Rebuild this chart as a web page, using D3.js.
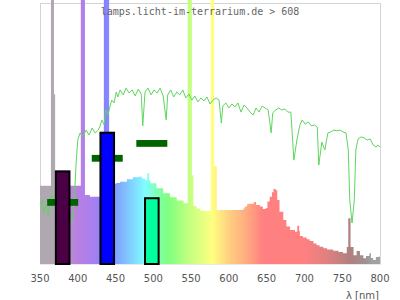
<!DOCTYPE html>
<html>
<head>
<meta charset="utf-8">
<script src="https://cdn.jsdelivr.net/npm/d3@7"></script>
<style>
  body { margin: 0; background: #fff; }
  svg { display: block; }
</style>
</head>
<body>
<svg id="chart"></svg>
<script>
// lamp spectrum: [wavelength nm, relative intensity] (step start points, peaks run off the top)
const lampSpectrum = [
  [350, 30], [364.5, 200], [368.5, 65], [370, 30], [404, 200], [409.5, 26.4], [416, 25.8],
  [434.5, 200], [441.5, 30], [449, 30.7], [451, 31], [456, 31.5], [465, 32.5], [473, 33.2],
  [480, 33.4], [485, 32.8], [489, 32.2], [492, 34.8], [494.5, 32], [496, 30.9], [504, 29],
  [513, 27.1], [522, 25.6], [531, 24.3], [540, 23.3], [545.5, 200], [551, 34], [553, 22.2],
  [557, 21.3], [562, 20.4], [568, 20.3], [576, 200], [580.5, 37.5], [584, 20.7], [619, 21.3],
  [621, 22], [624, 22.9], [626, 23.1], [633, 23.8], [636, 22.6], [641, 22], [645, 21.1],
  [649, 21.5], [651, 23.9], [654, 25.8], [657, 27.5], [659, 28.7], [662, 28.3], [664, 24.5],
  [667, 20], [672, 16.9], [676, 14.4], [681, 13], [687.5, 12.4], [690.5, 14.7], [693, 12.6],
  [694, 10.7], [698, 10.2], [703, 9.5], [707, 8.8], [712, 7.9], [716, 7.2], [720, 6.6],
  [725, 6], [730, 5.6], [738, 5.1], [745, 4.6], [751, 4.1], [756, 6.5], [758, 17.5],
  [761, 6.5], [765, 3.4], [769, 5], [773.5, 3.4], [778, 2.2], [781.5, 3.1], [786, 4.1],
  [788, 2.3], [791, 1.5], [794.5, 2.7], [797.5, 2.8], [800, 1.9]
];

// reference sunlight spectrum (green line)
const sunSpectrum = [
  [350, 22.6], [353, 24.5], [355, 19.9], [358, 22.6], [361, 18.8], [363, 24.5], [366, 26.4],
  [370, 24.5], [377, 22.6], [383, 20.7], [390, 18.8], [392, 16.1], [395, 22.6], [398, 39.8],
  [400, 47.5], [403, 50.2], [407, 48.7], [411, 51.3], [415, 49.4], [419, 52.1], [423, 50.2],
  [427, 51.3], [429, 52.5], [432, 55.2], [435, 53.3], [437, 59], [440, 57.1], [443, 60.9],
  [445, 62.8], [448, 61.7], [451, 65.9], [453, 64], [456, 66.7], [460, 64.8], [464, 67.4],
  [468, 65.5], [472, 66.7], [476, 64.4], [480, 67], [484, 65.1], [486, 52.9], [489, 65.9],
  [493, 67.4], [497, 64.8], [501, 66.7], [505, 65.5], [509, 67.4], [513, 64.4], [517, 55.2],
  [519, 64.8], [523, 66.7], [527, 64], [531, 65.9], [535, 64.8], [539, 66.7], [543, 63.6],
  [547, 65.1], [551, 62.8], [555, 64.4], [559, 62.1], [563, 63.6], [567, 62.5], [571, 64],
  [575, 61.3], [579, 62.8], [583, 63.6], [587, 62.8], [590, 54], [592, 60.5], [596, 61.7],
  [600, 59.8], [604, 61.3], [608, 60.2], [612, 61.7], [616, 58.2], [620, 60.9], [624, 59.8],
  [628, 58.2], [632, 57.1], [636, 59.8], [640, 58.2], [644, 60.5], [648, 59.8], [652, 59],
  [656, 50.2], [658, 57.9], [662, 59], [666, 59.8], [670, 59], [674, 59.4], [678, 58.2],
  [682, 58.2], [686, 39.8], [690, 47.5], [694, 53.3], [697, 55.2], [701, 53.6], [705, 54.4],
  [709, 52.9], [713, 53.3], [717, 52.5], [719, 37.9], [723, 46.7], [727, 43.7], [731, 50.2],
  [735, 50.6], [739, 51.3], [743, 51], [747, 51.3], [751, 50.6], [755, 50.2], [758, 43.7],
  [760, 24.5], [763, 15.7], [766, 24.5], [768, 43.7], [771, 47.9], [775, 48.7], [779, 48.3],
  [783, 47.5], [787, 47.9], [791, 45.6], [795, 44.8], [797, 45.6], [800, 44.8]
];

// receptor bars and their markers
const receptorNm = [380, 439, 498];
const receptorVal = [35.5, 50.3, 25.2];
const receptorColor = ["#4b0046", "#0000ff", "#00ff9f"];
const markerVal = [23.6, 40.5, 46.2];

const xTicks = [350, 400, 450, 500, 550, 600, 650, 700, 750, 800];
const titleText = "lamps.licht-im-terrarium.de > 608";

// wavelength -> colour of the fill
const colorStops = [
  [350, "#b0a8b0"], [372, "#b0a8b0"], [386, "#b890c8"], [400, "#b880e0"], [420, "#a880f0"],
  [436, "#8880ff"], [450, "#80a0ff"], [470, "#80d0ff"], [490, "#80ffff"], [505, "#80ffb0"],
  [520, "#80ff80"], [546, "#c0ff80"], [578, "#ffff80"], [600, "#ffd080"], [625, "#ffa880"],
  [645, "#ff8080"], [700, "#ff8080"], [730, "#e08080"], [760, "#b08080"], [780, "#a09090"],
  [790, "#a0a0a0"], [800, "#a0a0a0"]
];

const W = 400, H = 300;
const svg = d3.select("#chart").attr("width", W).attr("height", H);

const x = d3.scaleLinear().domain([350, 800]).range([40, 380]);
const y = d3.scaleLinear().domain([0, 100]).range([264, 3]);

// frame
svg.append("rect")
  .attr("x", 40.5).attr("y", 3.5)
  .attr("width", 340).attr("height", 260.5)
  .attr("fill", "none")
  .attr("stroke", "#d4d4d4");

// gradient for the spectrum
const grad = svg.append("defs").append("linearGradient")
  .attr("id", "spec")
  .attr("gradientUnits", "userSpaceOnUse")
  .attr("x1", x(350)).attr("x2", x(800))
  .attr("y1", 0).attr("y2", 0);

grad.selectAll("stop")
  .data(colorStops)
  .enter().append("stop")
  .attr("offset", d => (d[0] - 350) / 450)
  .attr("stop-color", d => d[1]);

const area = d3.area()
  .x(d => x(d[0]))
  .y0(y(0))
  .y1(d => y(d[1]))
  .curve(d3.curveStepAfter);

svg.append("path")
  .datum(lampSpectrum)
  .attr("d", area)
  .attr("fill", "url(#spec)");

// sunlight line
const line = d3.line()
  .x(d => x(d[0]))
  .y(d => y(d[1]));

svg.append("path")
  .datum(sunSpectrum)
  .attr("d", line)
  .attr("fill", "none")
  .attr("stroke", "#5ed65e")
  .attr("stroke-width", 1);

// markers
svg.selectAll(".marker")
  .data(receptorNm)
  .enter().append("rect")
  .attr("class", "marker")
  .attr("x", d => x(d - 20.5))
  .attr("width", d => x(d + 20.5) - x(d - 20.5))
  .attr("y", (d, i) => y(markerVal[i]) - 3.4)
  .attr("height", 6.8)
  .attr("fill", "#006400");

// receptor bars
svg.selectAll(".bar")
  .data(receptorNm)
  .enter().append("rect")
  .attr("class", "bar")
  .attr("x", d => x(d - 9))
  .attr("width", d => x(d + 9) - x(d - 9))
  .attr("y", (d, i) => y(receptorVal[i]))
  .attr("height", (d, i) => y(0) - y(receptorVal[i]))
  .attr("fill", (d, i) => receptorColor[i])
  .attr("stroke", "#000")
  .attr("stroke-width", 2);

// axis labels
svg.selectAll(".tick")
  .data(xTicks)
  .enter().append("text")
  .attr("class", "tick")
  .attr("x", d => x(d))
  .attr("y", 282)
  .attr("text-anchor", "middle")
  .style("font-family", "DejaVu Sans")
  .style("font-size", "10px")
  .style("fill", "#555")
  .text(d => d);

svg.append("text")
  .attr("x", 379)
  .attr("y", 299)
  .attr("text-anchor", "end")
  .style("font-family", "DejaVu Sans")
  .style("font-size", "10px")
  .style("fill", "#555")
  .text("λ [nm]");

// title
svg.append("text")
  .attr("x", 200)
  .attr("y", 15)
  .attr("text-anchor", "middle")
  .style("font-family", "DejaVu Sans Mono")
  .style("font-size", "10px")
  .style("fill", "#666")
  .text(titleText);
</script>
</body>
</html>
